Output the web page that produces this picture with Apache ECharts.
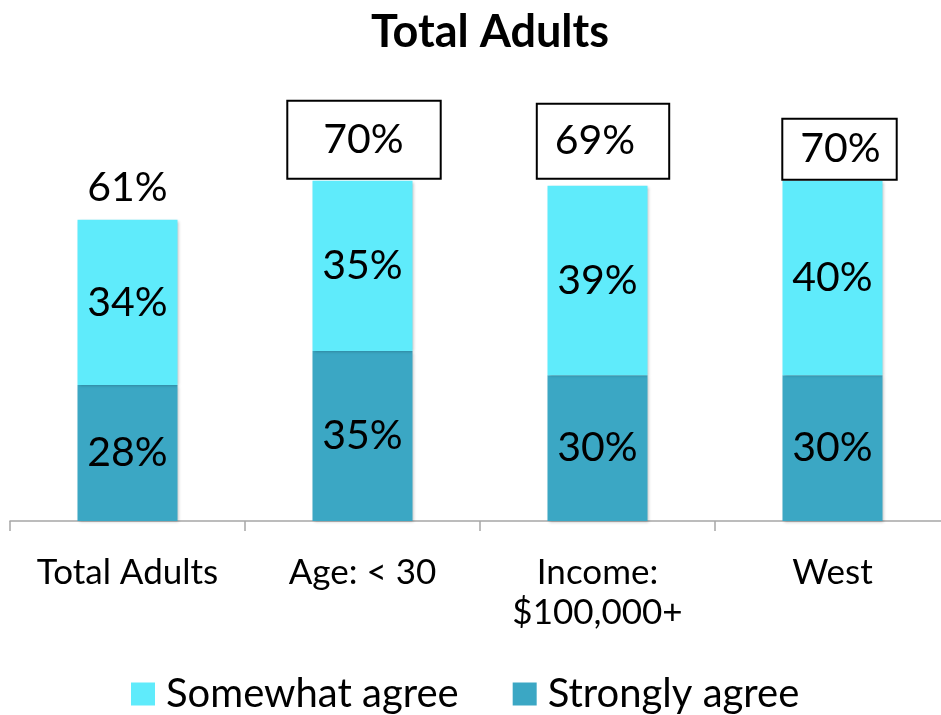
<!DOCTYPE html>
<html>
<head>
<meta charset="utf-8">
<style>
  html, body { margin: 0; padding: 0; background: #fff; overflow: hidden; }
  #chart { width: 950px; height: 715px; }
</style>
<script src="https://cdn.jsdelivr.net/npm/echarts@6/dist/echarts.min.js"></script>
</head>
<body>
<div id="chart"></div>
<script>
// Agreement by segment, stacked
const categories = ['Total Adults', 'Age: < 30', 'Income:\n$100,000+', 'West'];
const stronglyAgree = [28, 35, 30, 30];
const somewhatAgree = [34, 35, 39, 40];
const totalAgree = [61, 70, 69, 70];
const seriesNames = ['Somewhat agree', 'Strongly agree'];

const FONT = 'Lato, "Open Sans", sans-serif';
const LIGHT = '#5FEBFB';
const DARK = '#3BA7C4';

// Framing of each total callout (the first one is plain text)
const totalLabelStyles = [
  { distance: 16 },
  { distance: 3, offset: [1.5, 0], borderColor: '#000', borderWidth: 2, padding: [17, 36, 17, 35] },
  { distance: 8, offset: [5.5, 0], borderColor: '#000', borderWidth: 2, padding: [15, 33, 16, 17] },
  { distance: 2, offset: [7, 0], borderColor: '#000', borderWidth: 2, padding: [8, 15, 9, 17] }
];

const shadow = { shadowColor: 'rgba(0,0,0,0.25)', shadowBlur: 3, shadowOffsetX: 1, shadowOffsetY: 1 };
const innerLabel = { show: true, position: 'inside', color: '#000', fontFamily: FONT, fontSize: 41, formatter: '{c}%' };

const chart = echarts.init(document.getElementById('chart'), null, { renderer: 'canvas' });
chart.setOption({
  animation: false,
  backgroundColor: '#fff',
  title: {
    text: 'Total Adults',
    left: 485, top: 5, textAlign: 'center',
    textStyle: { fontFamily: FONT, fontWeight: 'bold', fontSize: 45, color: '#000' }
  },
  legend: {
    data: seriesNames,
    top: 667, left: 126,
    itemWidth: 24, itemHeight: 23, itemGap: 54,
    icon: 'rect',
    textStyle: { fontFamily: FONT, fontSize: 40, lineHeight: 44, color: '#000', padding: [0, 0, 0, 6] }
  },
  grid: { left: 10, width: 940, top: 35, bottom: 194, containLabel: false },
  xAxis: {
    type: 'category',
    data: categories,
    axisLine: { lineStyle: { color: '#A6A6A6', width: 1.5 } },
    axisTick: { show: true, length: 10, lineStyle: { color: '#A6A6A6', width: 1.5 } },
    axisLabel: { fontFamily: FONT, fontSize: 35, color: '#000', margin: 32, lineHeight: 40, interval: 0 }
  },
  yAxis: { type: 'value', min: 0, max: 100, show: false },
  series: [
    {
      name: 'Strongly agree', type: 'bar', stack: 'agree', barWidth: 100,
      data: stronglyAgree,
      itemStyle: Object.assign({ color: DARK }, shadow),
      label: innerLabel
    },
    {
      name: 'Somewhat agree', type: 'bar', stack: 'agree', barWidth: 100,
      data: somewhatAgree,
      itemStyle: Object.assign({ color: LIGHT }, shadow),
      label: innerLabel
    },
    {
      name: 'Total', type: 'bar', barWidth: 100, barGap: '-100%', silent: true,
      itemStyle: { color: 'rgba(0,0,0,0)' },
      data: totalAgree.map((v, i) => ({
        value: v,
        label: Object.assign({
          show: true, position: 'top', color: '#000', fontFamily: FONT, fontSize: 41,
          lineHeight: 42, formatter: '{c}%', backgroundColor: '#fff'
        }, totalLabelStyles[i])
      }))
    }
  ]
});
</script>
</body>
</html>
